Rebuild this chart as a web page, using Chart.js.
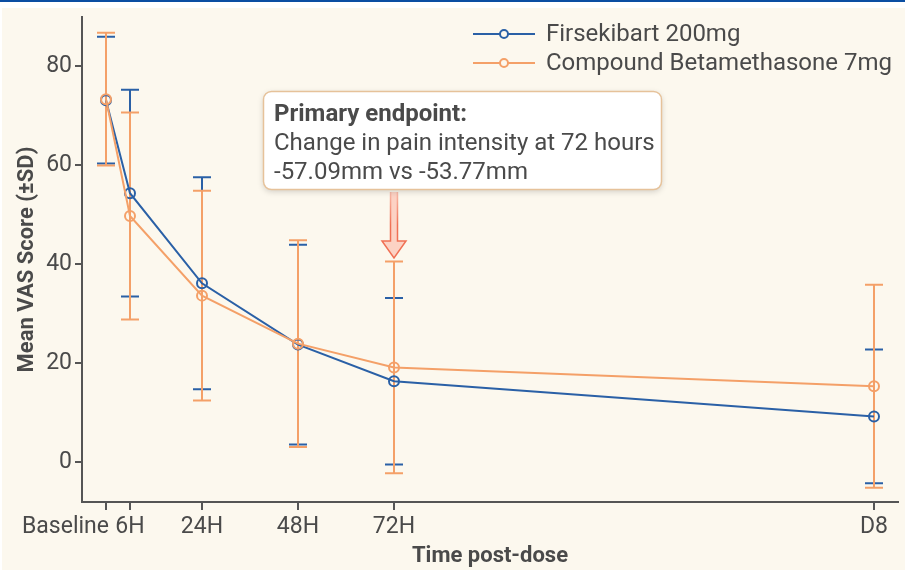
<!DOCTYPE html>
<html>
<head>
<meta charset="utf-8">
<script src="https://cdn.jsdelivr.net/npm/chart.js@4"></script>
<style>
  html, body { margin: 0; padding: 0; background: #fff; }
  #topbar { position: absolute; left: 0; top: 0; width: 905px; height: 2px; background: #0b4ea2; }
  #card { position: absolute; left: 2px; top: 8px; width: 903px; height: 562px; background: #fcf8ee; }
  #chart { position: absolute; left: 0; top: 0; }
</style>
</head>
<body>
<div id="topbar"></div>
<div id="card"></div>
<canvas id="chart" width="905" height="570"></canvas>
<script>
// time points (hours after dose) and their tick labels
const hours = [0, 6, 24, 48, 72, 192];
const timeLabels = ['Baseline', '6H', '24H', '48H', '72H', 'D8'];
const yTicks = [0, 20, 40, 60, 80];

// mean VAS score and standard deviation
const firsekibartMean = [73.2, 54.4, 36.2, 23.8, 16.4, 9.3];
const firsekibartSD   = [12.8, 20.9, 21.4, 20.2, 16.8, 13.5];
const betaMean = [73.4, 49.8, 33.7, 24.0, 19.2, 15.4];
const betaSD   = [13.4, 20.9, 21.2, 20.9, 21.4, 20.5];

const BLUE = '#2a60a6';
const ORANGE = '#f4a068';
const TEXT = '#4a4a4a';
const FONT = 'Roboto, "Noto Sans", sans-serif';

const toPoints = (means) => hours.map((h, i) => ({ x: h, y: means[i] }));

const errorBars = {
    id: 'errorBars',
    beforeDatasetsDraw(chart) {
        const { ctx, scales: { x, y } } = chart;
        const sets = [
            { mean: firsekibartMean, sd: firsekibartSD, color: BLUE },
            { mean: betaMean, sd: betaSD, color: ORANGE },
        ];
        ctx.save();
        ctx.lineWidth = 2;
        sets.forEach(s => {
            ctx.strokeStyle = s.color;
            hours.forEach((h, i) => {
                const px = x.getPixelForValue(h);
                const top = y.getPixelForValue(s.mean[i] + s.sd[i]);
                const bot = y.getPixelForValue(s.mean[i] - s.sd[i]);
                ctx.beginPath();
                ctx.moveTo(px, top); ctx.lineTo(px, bot);
                ctx.moveTo(px - 9, top); ctx.lineTo(px + 9, top);
                ctx.moveTo(px - 9, bot); ctx.lineTo(px + 9, bot);
                ctx.stroke();
            });
        });
        ctx.restore();
    }
};

const extras = {
    id: 'extras',
    afterDraw(chart) {
        const { ctx, scales: { x } } = chart;
        ctx.save();

        // x tick labels (Baseline sits to the left of its tick)
        ctx.fillStyle = TEXT;
        ctx.font = '23px ' + FONT;
        ctx.textBaseline = 'middle';
        hours.forEach((h, i) => {
            const px = x.getPixelForValue(h);
            if (i === 0) {
                ctx.textAlign = 'right';
                ctx.fillText(timeLabels[i], px + 3, 527);
            } else {
                ctx.textAlign = 'center';
                ctx.fillText(timeLabels[i], px, 527);
            }
        });
        ctx.textAlign = 'left';

        // legend
        const legend = [
            { label: 'Firsekibart 200mg', color: BLUE, y: 34 },
            { label: 'Compound Betamethasone 7mg', color: ORANGE, y: 63 },
        ];
        legend.forEach(l => {
            ctx.strokeStyle = l.color;
            ctx.lineWidth = 2;
            ctx.beginPath();
            ctx.moveTo(473, l.y); ctx.lineTo(535, l.y);
            ctx.stroke();
            ctx.fillStyle = '#fcf8ee';
            ctx.beginPath();
            ctx.arc(504, l.y, 4, 0, Math.PI * 2);
            ctx.fill(); ctx.stroke();
            ctx.fillStyle = TEXT;
            ctx.font = '24px ' + FONT;
            ctx.textBaseline = 'middle';
            ctx.fillText(l.label, 546, l.y + 1);
        });

        // arrow pointing at the 72 hour mark
        const ax = x.getPixelForValue(72);
        const grad = ctx.createLinearGradient(0, 192, 0, 258);
        grad.addColorStop(0, 'rgba(240,112,84,0.35)');
        grad.addColorStop(0.5, 'rgba(240,112,84,1)');
        ctx.beginPath();
        ctx.moveTo(ax - 3.5, 192);
        ctx.lineTo(ax - 3.5, 241);
        ctx.lineTo(ax - 12, 241);
        ctx.lineTo(ax, 258);
        ctx.lineTo(ax + 12, 241);
        ctx.lineTo(ax + 3.5, 241);
        ctx.lineTo(ax + 3.5, 192);
        ctx.fillStyle = '#fcd2c4';
        ctx.fill();
        ctx.strokeStyle = grad;
        ctx.lineWidth = 1.5;
        ctx.stroke();

        // annotation box
        ctx.save();
        ctx.shadowColor = 'rgba(0,0,0,0.18)';
        ctx.shadowBlur = 6;
        ctx.shadowOffsetY = 2;
        ctx.beginPath();
        ctx.roundRect(263.5, 91.5, 398, 98, 8);
        ctx.fillStyle = '#ffffff';
        ctx.fill();
        ctx.restore();
        ctx.beginPath();
        ctx.roundRect(263.5, 91.5, 398, 98, 8);
        ctx.strokeStyle = '#e6c29a';
        ctx.lineWidth = 1.5;
        ctx.stroke();

        ctx.fillStyle = TEXT;
        ctx.textBaseline = 'alphabetic';
        ctx.font = 'bold 24px ' + FONT;
        ctx.fillText('Primary endpoint:', 274, 121);
        ctx.font = '24px ' + FONT;
        ctx.fillText('Change in pain intensity at 72 hours', 274, 150);
        ctx.fillText('-57.09mm vs -53.77mm', 274, 179);

        ctx.restore();
    }
};

new Chart(document.getElementById('chart'), {
    type: 'line',
    data: {
        datasets: [
            {
                label: 'Firsekibart 200mg',
                data: toPoints(firsekibartMean),
                borderColor: BLUE,
                borderWidth: 2,
                pointRadius: 5,
                pointBorderWidth: 2,
                pointBackgroundColor: 'rgba(0,0,0,0)',
                pointBorderColor: BLUE,
                tension: 0,
                order: 1,
            },
            {
                label: 'Compound Betamethasone 7mg',
                data: toPoints(betaMean),
                borderColor: ORANGE,
                borderWidth: 2,
                pointRadius: 5,
                pointBorderWidth: 2,
                pointBackgroundColor: 'rgba(0,0,0,0)',
                pointBorderColor: ORANGE,
                tension: 0,
                order: 0,
            },
        ]
    },
    options: {
        responsive: false,
        animation: false,
        layout: { padding: { top: 17, right: 2, left: 0, bottom: 0 } },
        plugins: {
            legend: { display: false },
            tooltip: { enabled: false },
        },
        scales: {
            x: {
                type: 'linear',
                min: -6,
                max: 198,
                afterBuildTicks: (axis) => { axis.ticks = hours.map(v => ({ value: v })); },
                afterFit: (axis) => { axis.height = 68; },
                ticks: { display: false },
                grid: { drawOnChartArea: false, drawTicks: true, tickLength: 8, color: '#555', lineWidth: 2 },
                border: { display: true, color: '#555', width: 2 },
                title: {
                    display: true,
                    text: 'Time post-dose',
                    color: TEXT,
                    font: { family: FONT, size: 22, weight: 'bold' },
                    padding: { top: 0, bottom: 0 },
                },
            },
            y: {
                min: -8,
                max: 90,
                afterBuildTicks: (axis) => { axis.ticks = yTicks.map(v => ({ value: v })); },
                afterFit: (axis) => { axis.width = 82; },
                ticks: {
                    color: TEXT,
                    font: { family: FONT, size: 23 },
                    padding: 3,
                },
                grid: { drawOnChartArea: false, drawTicks: true, tickLength: 7, color: '#555', lineWidth: 2 },
                border: { display: true, color: '#555', width: 2 },
                title: {
                    display: true,
                    text: 'Mean VAS Score (±SD)',
                    color: TEXT,
                    font: { family: FONT, size: 22, weight: 'bold' },
                    padding: { top: 14, bottom: 0 },
                },
            },
        },
    },
    plugins: [errorBars, extras],
});
</script>
</body>
</html>
